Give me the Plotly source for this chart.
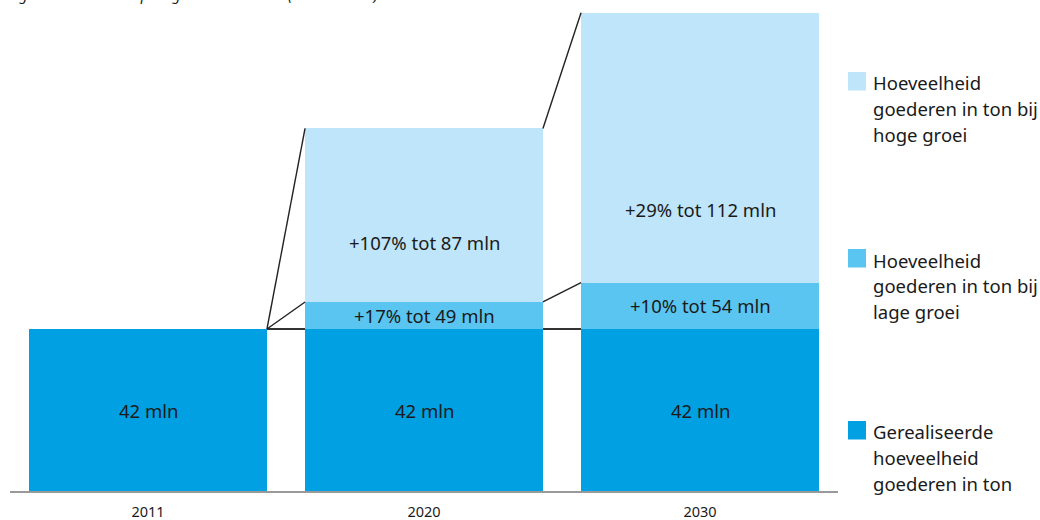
import plotly.graph_objects as go

# ---- data ----
years = ["2011", "2020", "2030"]
realised = [42, 42, 42]                 # gerealiseerde hoeveelheid (mln ton)
low_total = [None, 49, 54]              # totaal bij lage groei (as drawn)
high_total = [None, 94, 124]            # totaal bij hoge groei (as drawn)
base_labels = ["42 mln", "42 mln", "42 mln"]
low_labels = [None, "+17% tot 49 mln", "+10% tot 54 mln"]
high_labels = [None, "+107% tot 87 mln", "+29% tot 112 mln"]
high_label_y = [None, 64.3, 72.9]       # label anchor heights for high-growth text
legend_items = [
    ["Hoeveelheid", "goederen in ton bij", "hoge groei"],
    ["Hoeveelheid", "goederen in ton bij", "lage groei"],
    ["Gerealiseerde", "hoeveelheid", "goederen in ton"],
]
title_text = "Figuur 9 \u2013 Groei in spoorgoederenvervoer (2011 \u2013 2030)"

# ---- style ----
C_BASE = "#00A0E2"
C_LOW = "#5BC5F2"
C_HIGH = "#BEE5F9"
TXT = "#1A1A1A"
FONT = "Noto Sans"
W, H = 1040, 520
ML, MR, MT, MB = 10, 202, 10, 29
BARGAP = 0.138
YMAX = 124.7

low_seg = [None if l is None else l - b for l, b in zip(low_total, realised)]
high_seg = [None if h is None else h - l for h, l in zip(high_total, low_total)]

fig = go.Figure()
fig.add_trace(go.Bar(x=years, y=realised, marker=dict(color=C_BASE, line=dict(width=0)),
                     hoverinfo="skip", showlegend=False))
fig.add_trace(go.Bar(x=years, y=low_seg, marker=dict(color=C_LOW, line=dict(width=0)),
                     hoverinfo="skip", showlegend=False))
fig.add_trace(go.Bar(x=years, y=high_seg, marker=dict(color=C_HIGH, line=dict(width=0)),
                     hoverinfo="skip", showlegend=False))

hw = (1 - BARGAP) / 2
shapes = []
line_style = dict(color="#222222", width=1.4)
for i in range(len(years) - 1):
    x0, x1 = i + hw, i + 1 - hw
    b0 = realised[i]
    prev_low = low_total[i] if low_total[i] is not None else b0
    prev_high = high_total[i] if high_total[i] is not None else b0
    shapes.append(dict(type="line", xref="x", yref="y", x0=x0, x1=x1, y0=b0, y1=realised[i + 1],
                       line=dict(color="#333333", width=1.8), layer="below"))
    shapes.append(dict(type="line", xref="x", yref="y", x0=x0, x1=x1, y0=prev_low, y1=low_total[i + 1],
                       line=line_style))
    shapes.append(dict(type="line", xref="x", yref="y", x0=x0, x1=x1, y0=prev_high, y1=high_total[i + 1],
                       line=line_style))

annotations = []
lab_font = dict(family=FONT, size=18.5, color=TXT)
for i, yr in enumerate(years):
    annotations.append(dict(x=i, y=realised[i] / 2, xref="x", yref="y", text=base_labels[i],
                            showarrow=False, font=lab_font))
    if low_labels[i]:
        annotations.append(dict(x=i, y=(realised[i] + low_total[i]) / 2, xref="x", yref="y",
                                text=low_labels[i], showarrow=False, font=lab_font))
    if high_labels[i]:
        annotations.append(dict(x=i, y=high_label_y[i], xref="x", yref="y",
                                text=high_labels[i], showarrow=False, font=lab_font))

# legend (manual) — pixel helpers
PW = W - ML - MR
PH = H - MT - MB
def px(xp):
    return (xp - ML) / PW
def py(yp):
    return (H - MB - yp) / PH

leg_colors = [C_HIGH, C_LOW, C_BASE]
leg_tops = [72, 249, 421]
for col, top, lines in zip(leg_colors, leg_tops, legend_items):
    shapes.append(dict(type="rect", xref="paper", yref="paper", x0=px(848), x1=px(866),
                       y0=py(top + 18.5), y1=py(top), fillcolor=col, line=dict(width=0)))
    for k, t in enumerate(lines):
        annotations.append(dict(x=px(871), y=py(top + 11 + 25.6 * k), xref="paper", yref="paper",
                                text=t, showarrow=False, xanchor="left", yanchor="middle",
                                font=dict(family=FONT, size=18.5, color=TXT)))

annotations.append(dict(x=px(6), y=py(6), xref="paper", yref="paper", text=title_text,
                        showarrow=False, xanchor="left", yanchor="bottom",
                        font=dict(family=FONT, size=15, color=TXT, style="italic")))

fig.update_layout(
    width=W, height=H,
    margin=dict(l=ML, r=MR, t=MT, b=MB, pad=0, autoexpand=False),
    barmode="stack", bargap=BARGAP,
    plot_bgcolor="white", paper_bgcolor="white",
    shapes=shapes, annotations=annotations,
    showlegend=False,
    xaxis=dict(type="category", range=[-0.5, 2.5], showline=True, linecolor="#9A9A9A", linewidth=2,
               showgrid=False, zeroline=False, ticks="", automargin=False, ticklabelstandoff=7,
               tickfont=dict(family=FONT, size=14.5, color=TXT), fixedrange=True),
    yaxis=dict(range=[0, YMAX], visible=False, showgrid=False, zeroline=False, fixedrange=True,
               automargin=False),
)

fig.write_html("out.html", config={"displayModeBar": False})
